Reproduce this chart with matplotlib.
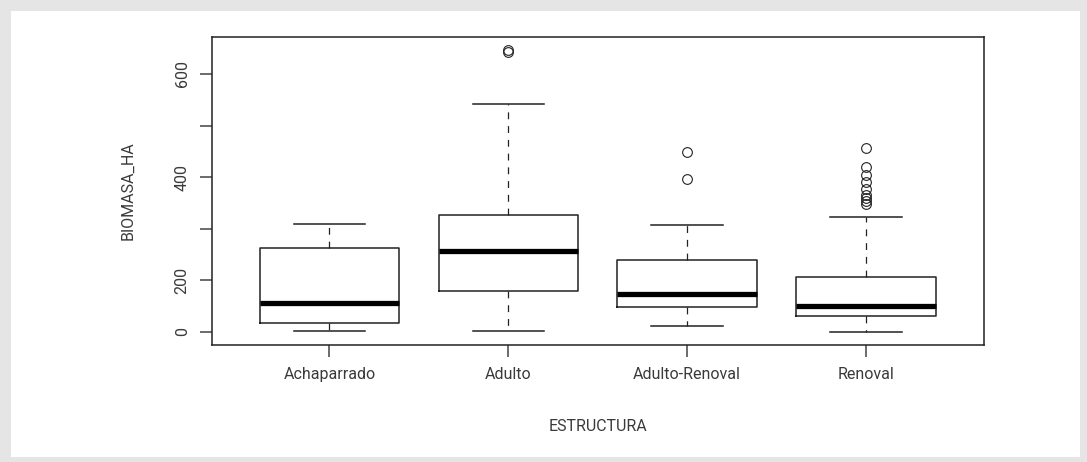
import numpy as np
import matplotlib
matplotlib.use("Agg")
import matplotlib.pyplot as plt
from matplotlib.patches import Rectangle

# values (BIOMASA_HA by ESTRUCTURA)
categories = ["Achaparrado", "Adulto", "Adulto-Renoval", "Renoval"]
whislo = [5, 4, 23, 0]
q1 = [34, 159, 96, 62]
med = [114, 257, 146, 100]
q3 = [263, 327, 239, 207]
whishi = [309, 541, 308, 322]
fliers = [
    [],
    [647, 642],
    [448, 397],
    [456, 419, 405, 390, 377, 366, 359, 353, 348],
]

# the original axis is squeezed below 200 (0 and 200 sit half a step apart)
def fwd(v):
    v = np.asarray(v, dtype=float)
    return np.where(v < 200, 100 + v / 2.0, v)


def inv(u):
    u = np.asarray(u, dtype=float)
    return np.where(u < 200, 2.0 * (u - 100), u)


plt.rcParams['font.family'] = ['Roboto', 'DejaVu Sans']
plt.rcParams['font.size'] = 11.5

ink = '#222222'
txt = '#3a3a3a'

fig = plt.figure(figsize=(10.87, 4.62), dpi=100, facecolor='#e5e5e5')
W, H = 1087.0, 462.0
fig.patches.append(Rectangle((11 / W, 1 - 457 / H), (1080 - 11) / W, (457 - 11) / H,
                             transform=fig.transFigure, facecolor='white',
                             edgecolor='none', zorder=-5))

ax = fig.add_axes([212 / W, 1 - 345 / H, 772 / W, 308 / H])
ax.set_yscale('function', functions=(fwd, inv))

stats = []
for i, name in enumerate(categories):
    stats.append({
        'label': name,
        'whislo': whislo[i], 'q1': q1[i], 'med': med[i],
        'q3': q3[i], 'whishi': whishi[i], 'fliers': fliers[i],
    })

ax.bxp(stats, positions=[1, 2, 3, 4], widths=0.78, capwidths=0.4,
       boxprops=dict(color=ink, linewidth=1.1),
       medianprops=dict(color='black', linewidth=3.8, solid_capstyle='butt'),
       whiskerprops=dict(color=ink, linewidth=0.9, linestyle=(0, (5.5, 5.5))),
       capprops=dict(color=ink, linewidth=1.1),
       flierprops=dict(marker='o', markerfacecolor='none', markeredgecolor=ink,
                       markersize=7, markeredgewidth=0.8))

ax.set_xlim(0.343, 4.66)
ax.set_ylim(-50.4, 671.7)
ax.set_yticks([0, 200, 300, 400, 500, 600])
ax.set_yticklabels(['0', '200', '', '400', '', '600'])
ax.set_xticks([1, 2, 3, 4])
ax.set_xticklabels(categories)

for s in ax.spines.values():
    s.set_color(ink)
    s.set_linewidth(1.1)

ax.tick_params(axis='both', length=8.6, width=1.1, color='#444444',
               labelcolor=txt, pad=7.5)
for lab in ax.get_yticklabels():
    lab.set_rotation(90)
    lab.set_va('center')

ax.set_ylabel('BIOMASA_HA', color=txt, va='center')
ax.yaxis.set_label_coords(-0.1088, 0.5)
ax.set_xlabel('ESTRUCTURA', color=txt, va='center')
ax.xaxis.set_label_coords(0.5, -0.266)

fig.savefig('out.png', dpi=100, facecolor=fig.get_facecolor())
